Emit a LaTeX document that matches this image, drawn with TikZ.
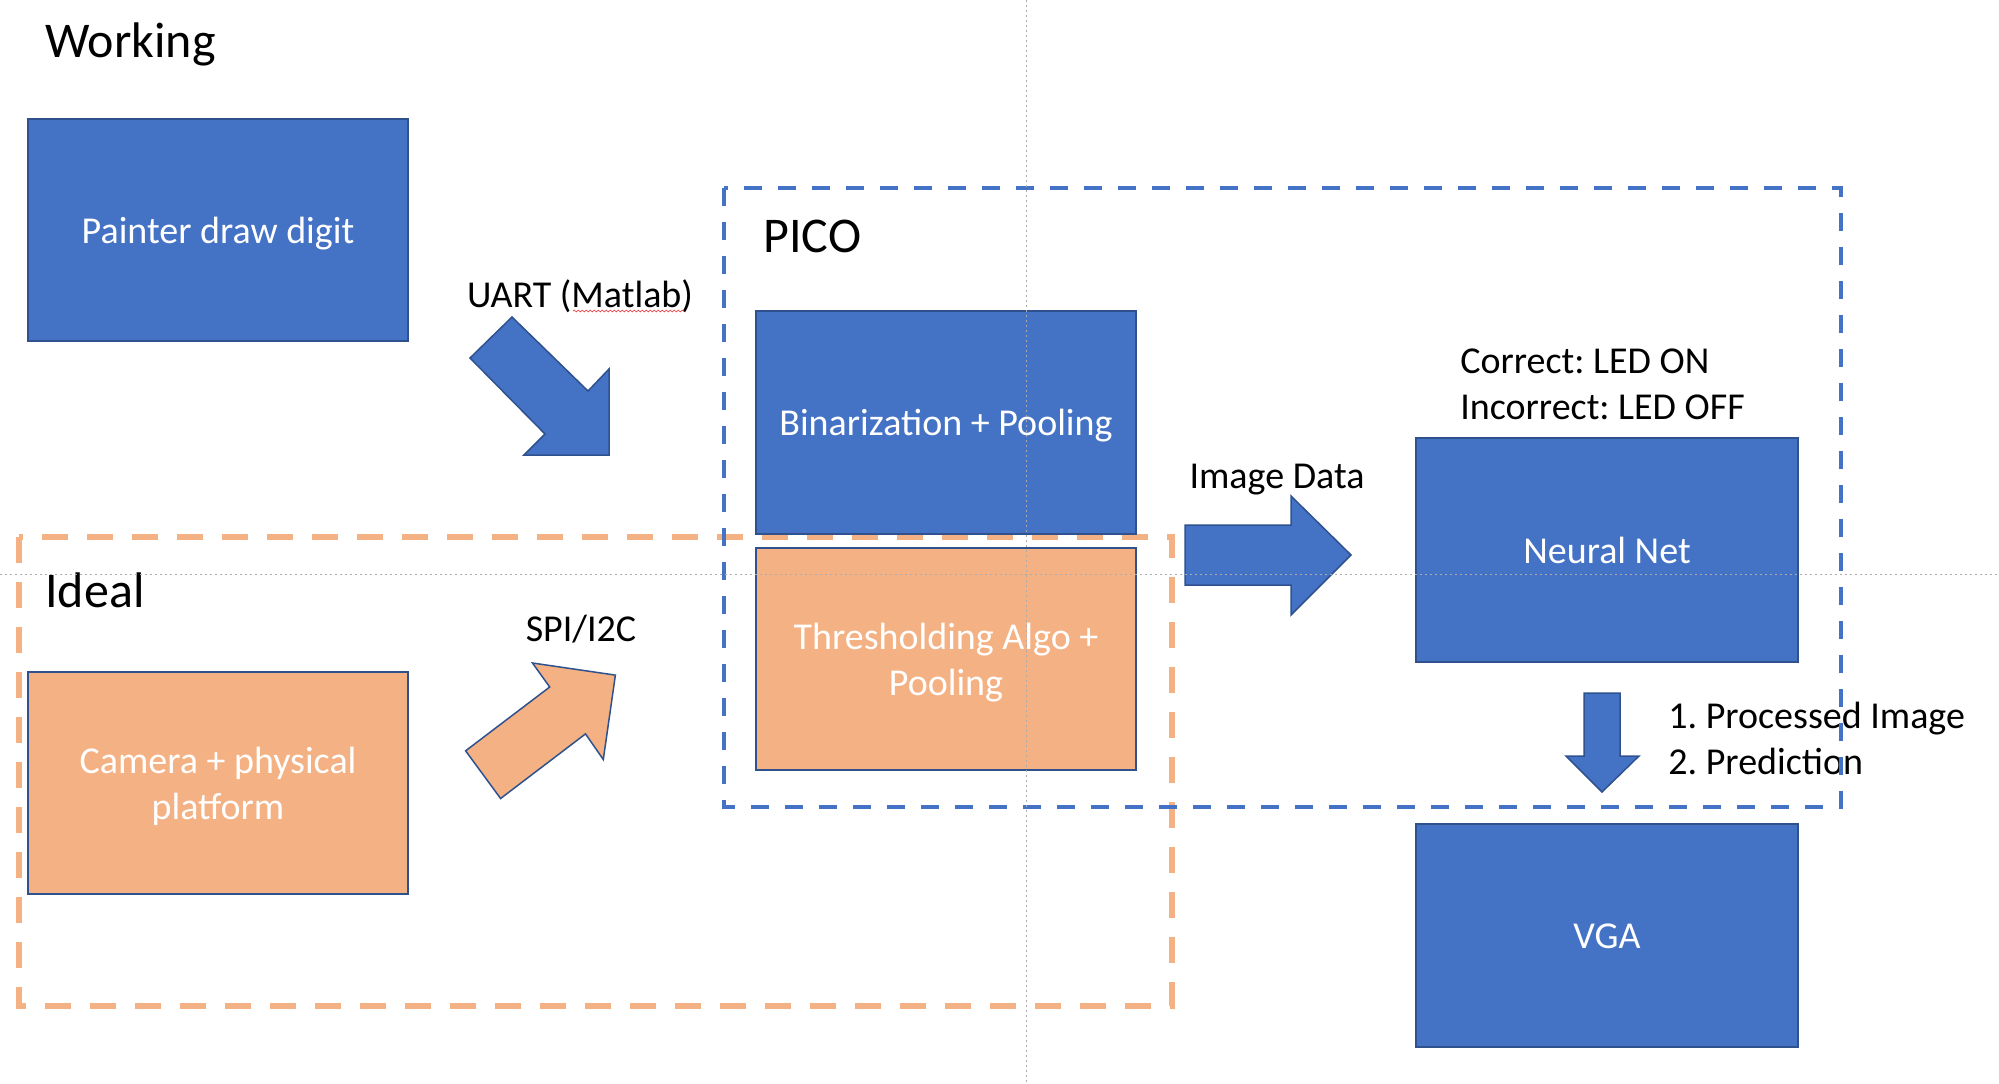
\documentclass[tikz,border=0pt]{standalone}
\usepackage{fontspec}
\setmainfont{Carlito}
\usetikzlibrary{decorations.pathmorphing}
\definecolor{pblue}{HTML}{4472C4}
\definecolor{pborder}{HTML}{2F528F}
\definecolor{porange}{HTML}{F4B183}
\definecolor{guide}{HTML}{ABABAB}
\definecolor{spell}{HTML}{E84A4A}
\frenchspacing
\begin{document}
\begin{tikzpicture}[x=0.5pt,y=-0.5pt,
  box/.style={draw=pborder,line width=0.75pt,inner sep=0pt,text=white,
              font=\fontsize{19}{23}\selectfont},
  bluebox/.style={box,fill=pblue},
  orangebox/.style={box,fill=porange},
  oneline/.style={text height=13pt,text depth=0pt},
  lbl/.style={font=\fontsize{19}{23}\selectfont,inner sep=0pt},
  headlbl/.style={font=\fontsize{25}{30}\selectfont,inner sep=0pt},
  blockarrow/.style={draw=pborder,line width=0.75pt,line join=miter},
  orangeframe/.style={draw=porange,line width=2.6pt,dash pattern=on 13pt off 9.5pt},
  blueframe/.style={draw=pblue,line width=2.25pt,dash pattern=on 9pt off 8pt},
  guideline/.style={draw=guide,line width=0.5pt,dash pattern=on 1pt off 1.5pt},
]
\useasboundingbox (0,0) rectangle (1999,1083);
\fill[white] (0,0) rectangle (1999,1083);

% frames
\draw[orangeframe] (19,537) rectangle (1172,1006);

% headings
\node[headlbl,anchor=base west] (working) at (45,57) {Working};
\node[headlbl,anchor=base west] (ideal) at (45,607) {Ideal};
\node[headlbl,anchor=base west] (pico) at (763,252) {PICO};

% boxes
\node[bluebox,oneline,minimum width=190pt,minimum height=111pt] (painter) at (218,230) {Painter draw digit};
\node[bluebox,oneline,minimum width=190pt,minimum height=111.5pt] (binar) at (946,422.5) {Binarization + Pooling};
\node[orangebox,minimum width=190pt,minimum height=111pt] (thresh) at (946,659) {};
\node[text=white,font=\fontsize{19}{23}\selectfont,inner sep=0pt,align=center] (threshtxt) at (946,662.5) {Thresholding Algo +\\Pooling};
\node[orangebox,minimum width=190pt,minimum height=111pt] (camera) at (218,783) {};
\node[text=white,font=\fontsize{19}{23}\selectfont,inner sep=0pt,align=center] (cameratxt) at (218,786) {Camera + physical\\platform};
\node[bluebox,oneline,minimum width=191pt,minimum height=112pt] (nn) at (1607,550) {Neural Net};
\node[bluebox,oneline,minimum width=191pt,minimum height=111.5pt] (vga) at (1607,935.5) {VGA};

% block arrows
\filldraw[blockarrow,fill=pblue] (512,317) -- (588,391) -- (609,369) -- (609,455) -- (524,455) -- (545,434) -- (470,358) -- cycle;
\filldraw[blockarrow,fill=porange] (532.5,663) -- (549.7,687) -- (465.6,750.8) -- (500.6,798.5) -- (585.5,733.9) -- (603.3,759.5) -- (615.4,675.1) -- cycle;
\filldraw[blockarrow,fill=pblue] (1185,525) -- (1291,525) -- (1291,496) -- (1351,555) -- (1291,615) -- (1291,585) -- (1185,585) -- cycle;
\filldraw[blockarrow,fill=pblue] (1584,693) -- (1620,693) -- (1620,756) -- (1639,756) -- (1602,792) -- (1566,756) -- (1584,756) -- cycle;

% labels
\node[lbl,anchor=base] (uart) at (580,307) {UART (Matlab)};
\draw[spell,line width=0.35pt,decorate,decoration={snake,amplitude=0.45pt,segment length=2pt}] (573,311) -- (684,311);
\node[lbl,anchor=base] (spi) at (581,641) {SPI/I2C};
\node[lbl,anchor=base] (imgdata) at (1277,488) {Image Data};
\node[lbl,anchor=base west] (led) at (1460,373) {\begin{tabular}[t]{@{}l@{}}Correct: LED ON\\Incorrect: LED OFF\end{tabular}};
\node[lbl,anchor=base west] (outputs) at (1668,728) {\begin{tabular}[t]{@{}l@{}}1. Processed Image\\2. Prediction\end{tabular}};

\draw[blueframe] (724,188) rectangle (1841,807);

% guides
\draw[guideline] (1026,0) -- (1026,1083);
\draw[guideline] (0,574.5) -- (1999,574.5);
\end{tikzpicture}
\end{document}
